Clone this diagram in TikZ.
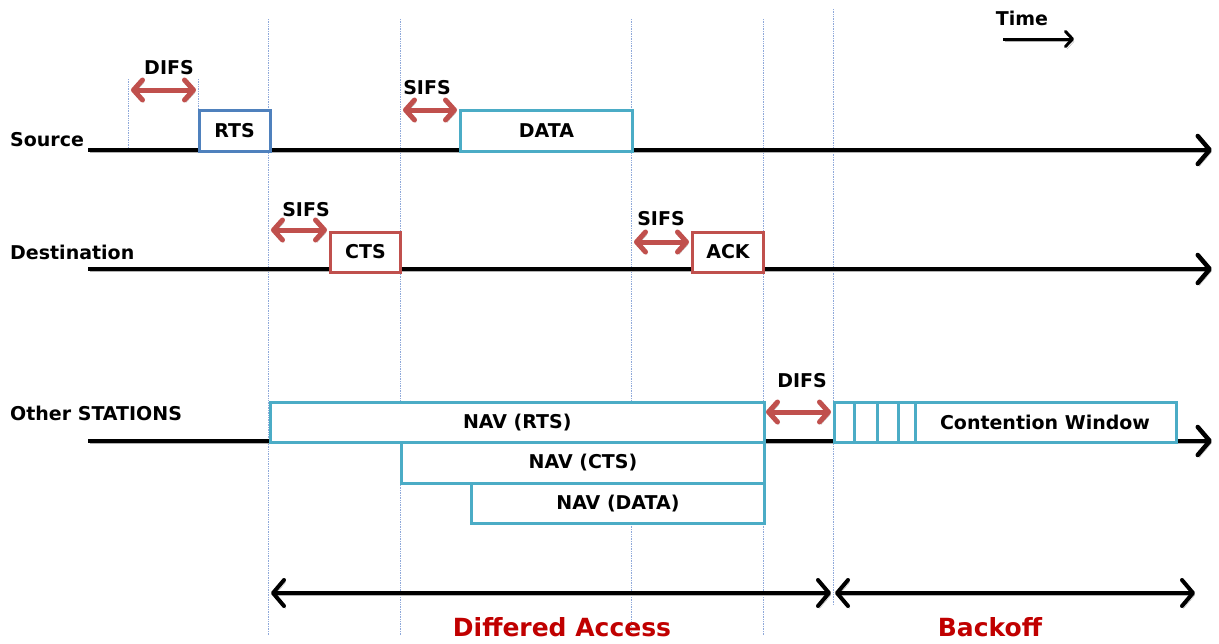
\documentclass[tikz,border=0pt]{standalone}
\usepackage{fontspec}
\setmainfont{DejaVu Sans}
\usetikzlibrary{arrows.meta,calc}
\definecolor{rtsblue}{HTML}{4F81BD}
\definecolor{tealc}{HTML}{4BACC6}
\definecolor{redbox}{HTML}{C0504D}
\definecolor{darkred}{HTML}{C00000}
\definecolor{guide}{HTML}{8FA9DA}
\begin{document}
\begin{tikzpicture}[x=1pt,y=-1pt,
  font=\fontsize{19}{21}\selectfont\bfseries,
  lbl/.style={inner sep=0pt},
  shadowed/.style={preaction={draw=black!30,transform canvas={shift={(1.5,2.5)}}}},
  axis/.style={line width=4.5pt,shadowed,-{Straight Barb[length=12pt,width=28pt,round]}},
  gap/.style={line width=5pt,draw=redbox,shadowed,{Straight Barb[length=9pt,width=20pt,round]}-{Straight Barb[length=9pt,width=20pt,round]}},
  span/.style={line width=4pt,shadowed,{Straight Barb[length=11pt,width=26pt,round]}-{Straight Barb[length=11pt,width=26pt,round]}},
  guideline/.style={draw=guide,line width=0.7pt,densely dotted},
  frame/.style={draw=#1,line width=3pt,fill=white,inner sep=0pt,anchor=north west},
  big/.style={font=\fontsize{25}{27}\selectfont\bfseries,text=darkred,inner sep=0pt}]
\path[use as bounding box] (0,0) rectangle (1219,643);

% guide lines
\coordinate (g1t) at (128,79);   \coordinate (g1b) at (128,152);
\coordinate (g2t) at (198,79);   \coordinate (g2b) at (198,108);
\coordinate (g3t) at (268.5,19); \coordinate (g3b) at (268.5,635);
\coordinate (g4t) at (400,19);   \coordinate (g4b) at (400,635);
\coordinate (g5t) at (631.5,19); \coordinate (g5b) at (631.5,635);
\coordinate (g6t) at (763,19);   \coordinate (g6b) at (763,635);
\coordinate (g7t) at (833,9);    \coordinate (g7b) at (833,605);
\foreach \i in {1,...,7} {\draw[guideline] (g\i t) -- (g\i b);}

% axes
\coordinate (s0) at (88,150);  \coordinate (s1) at (1212,150);
\coordinate (d0) at (88,269);  \coordinate (d1) at (1212,269);
\coordinate (o0) at (88,441);  \coordinate (o1) at (1212,441);
\draw[axis] (s0) -- (s1);
\draw[axis] (d0) -- (d1);
\draw[axis] (o0) -- (o1);

% row labels
\node[lbl,anchor=west] (src) at (10,140) {Source};
\node[lbl,anchor=west] (dst) at (10,252) {Destination};
\node[lbl,anchor=west] (oth) at (10,413) {Other STATIONS};

% frames
\node[frame=rtsblue,minimum width=71,minimum height=41] (rts) at (197.5,108.5) {RTS};
\node[frame=tealc,minimum width=172,minimum height=41] (data) at (459,108.5) {DATA};
\node[frame=redbox,minimum width=70,minimum height=40] (cts) at (329,230.5) {CTS};
\node[frame=redbox,minimum width=71,minimum height=40] (ack) at (691,230.5) {ACK};
\node[frame=tealc,minimum width=293,minimum height=40] (navdata) at (470,482) {NAV (DATA)};
\node[frame=tealc,minimum width=363,minimum height=41] (navcts) at (400,441) {NAV (CTS)};
\node[frame=tealc,minimum width=494.5,minimum height=40] (navrts) at (268.5,401) {NAV (RTS)};
\node[frame=tealc,minimum width=342,minimum height=40] (cw) at (833,401) {};
\foreach \dx in {21,44,65,82} {
  \draw[draw=tealc,line width=3pt] ($(cw.north west)+(\dx,0)$) -- ($(cw.south west)+(\dx,0)$);
}
\node[lbl] (cwt) at (1045,422) {Contention Window};

% interframe spaces
\coordinate (a1l) at (131,90);  \coordinate (a1r) at (196,90);
\coordinate (a2l) at (403,110); \coordinate (a2r) at (457,110);
\coordinate (a3l) at (271,230); \coordinate (a3r) at (327,230);
\coordinate (a4l) at (634,242); \coordinate (a4r) at (689,242);
\coordinate (a5l) at (766,412); \coordinate (a5r) at (831,412);
\draw[gap] (a1l) -- (a1r);
\draw[gap] (a2l) -- (a2r);
\draw[gap] (a3l) -- (a3r);
\draw[gap] (a4l) -- (a4r);
\draw[gap] (a5l) -- (a5r);
\node[lbl] (difs1) at (169,68) {DIFS};
\node[lbl] (sifs1) at (427,88) {SIFS};
\node[lbl] (sifs2) at (306,210) {SIFS};
\node[lbl] (sifs3) at (661,219) {SIFS};
\node[lbl] (difs2) at (802,381) {DIFS};

% time
\node[lbl] (time) at (1022,18) {Time};
\coordinate (t0) at (1003,39); \coordinate (t1) at (1074,39);
\draw[line width=3pt,shadowed,-{Straight Barb[length=7pt,width=15pt,round]}] (t0) -- (t1);

% bottom spans
\coordinate (b0) at (271,593); \coordinate (b1) at (831,593);
\coordinate (b2) at (835,593); \coordinate (b3) at (1195,593);
\draw[span] (b0) -- (b1);
\draw[span] (b2) -- (b3);
\node[big] (da) at (562,627) {Differed Access};
\node[big] (bo) at (990,627) {Backoff};
\end{tikzpicture}
\end{document}
